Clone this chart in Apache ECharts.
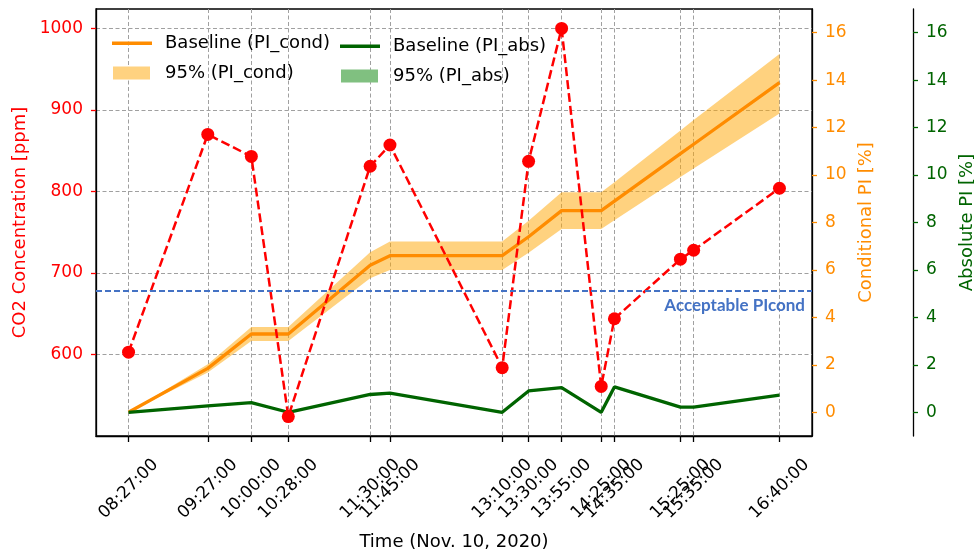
<!DOCTYPE html>
<html><head><meta charset="utf-8">
<script src="https://cdn.jsdelivr.net/npm/echarts@6/dist/echarts.min.js"></script>
<style>html,body{margin:0;padding:0;background:#fff}#c{width:974px;height:552px}</style>
</head><body><div id="c"></div>
<script>
// ---- data ----
const timeLabels = ['08:27:00','09:27:00','10:00:00','10:28:00','11:30:00','11:45:00','13:10:00','13:30:00','13:55:00','14:25:00','14:35:00','15:25:00','15:35:00','16:40:00'];
const co2        = [603, 870, 843, 524, 831, 857, 584, 837, 1000, 561, 644, 717, 728, 804];
const piCond     = [0, 1.85, 3.3, 3.3, 6.2, 6.6, 6.6, 7.4, 8.5, 8.5, 8.9, 10.9, 11.3, 13.9];
const piCondLow  = [0, 1.68, 3.0, 3.0, 5.65, 6.0, 6.0, 6.73, 7.73, 7.73, 8.1, 9.92, 10.28, 12.6];
const piCondHigh = [0, 2.02, 3.6, 3.6, 6.75, 7.2, 7.2, 8.07, 9.27, 9.27, 9.7, 11.88, 12.32, 15.1];
const piAbs      = [0, 0.27, 0.41, 0, 0.75, 0.81, 0, 0.9, 1.04, 0, 1.07, 0.22, 0.22, 0.72];
const piAbsLow   = [0, 0.25, 0.39, 0, 0.72, 0.78, 0, 0.87, 1.0, 0, 1.03, 0.21, 0.21, 0.69];
const piAbsHigh  = [0, 0.29, 0.43, 0, 0.78, 0.84, 0, 0.93, 1.08, 0, 1.11, 0.23, 0.23, 0.75];
const acceptablePICond = 5.14;
const co2Ticks = [600, 700, 800, 900, 1000];
const piTicks = [0, 2, 4, 6, 8, 10, 12, 14, 16];

// ---- helpers ----
function toMin(s){ const p = s.split(':'); return (+p[0]) * 60 + (+p[1]); }
const xs = timeLabels.map(toMin);
const pairs = arr => xs.map((x, i) => [x, arr[i]]);
function labelFor(v){ const i = xs.indexOf(Math.round(v)); return i >= 0 ? timeLabels[i] : ''; }

const FONT = 'DejaVu Sans';
const RED = '#FF0000', ORANGE = '#FF8C00', ORANGE_BAND = 'rgba(255,165,0,0.5)', ORANGE_BAND_SOLID = '#FFD280';
const GREEN = '#006400', GREEN_BAND = 'rgba(0,128,0,0.5)', GREEN_BAND_SOLID = '#80C080';
const BLUE = '#4472C4';
const LINE_ICON = 'path://M0,0 M48,13 M0,5 L40,5 L40,8.5 L0,8.5 Z';
const RECT_ICON = 'path://M0,0 M48,13 M1,0 L38,0 L38,13 L1,13 Z';

function bandSeries(name, yAxisIndex, lo, hi, fill, solid){
  return {
    type: 'custom', name: name, yAxisIndex: yAxisIndex, z: 1, silent: true, clip: true,
    data: xs.map((x, i) => [x, lo[i], hi[i]]),
    encode: {x: 0, y: [1, 2]},
    itemStyle: {color: solid},
    renderItem: function(params, api){
      if (params.dataIndex !== 0) return null;
      const n = xs.length, top = [], bot = [];
      for (let i = 0; i < n; i++) {
        top.push(api.coord([xs[i], hi[i]]));
        bot.push(api.coord([xs[i], lo[i]]));
      }
      return {type: 'polygon', shape: {points: top.concat(bot.reverse())}, style: {fill: fill}};
    }
  };
}

const chart = echarts.init(document.getElementById('c'), null, {renderer: 'canvas'});
const legendCommon = {
  orient: 'vertical', itemWidth: 48, itemHeight: 13, itemGap: 12, padding: 0,
  selectedMode: false, textStyle: {fontSize: 18, color: '#000', fontFamily: FONT},
  itemStyle: {borderWidth: 0}
};
function rightAxis(name, color, offset){
  return {
    type: 'value', position: 'right', offset: offset, min: -1, max: 17,
    axisLine: {show: true, onZero: false, lineStyle: {color: '#000', width: 1.3}},
    axisTick: {show: true, customValues: piTicks, length: 5, lineStyle: {color: color, width: 1.3}},
    axisLabel: {customValues: piTicks, formatter: v => String(v), color: color, fontSize: 17, margin: 13, fontFamily: FONT},
    splitLine: {show: false},
    name: name, nameLocation: 'middle', nameRotate: 90, nameGap: 42,
    nameTextStyle: {color: color, fontSize: 18, fontFamily: FONT}
  };
}
const option = {
  animation: false,
  textStyle: {fontFamily: FONT},
  grid: {left: 96, right: 162, top: 9, bottom: 116, show: true, borderColor: '#000', borderWidth: 1.3,
    containLabel: false, outerBoundsMode: 'none'},
  legend: [
    Object.assign({}, legendCommon, {left: 112, top: 34, data: [
      {name: 'Baseline (PI_cond)', icon: LINE_ICON, itemStyle: {color: ORANGE}},
      {name: '95% (PI_cond)', icon: RECT_ICON, itemStyle: {color: ORANGE_BAND_SOLID}}]}),
    Object.assign({}, legendCommon, {left: 340, top: 37, data: [
      {name: 'Baseline (PI_abs)', icon: LINE_ICON, itemStyle: {color: GREEN}},
      {name: '95% (PI_abs)', icon: RECT_ICON, itemStyle: {color: GREEN_BAND_SOLID}}]})
  ],
  xAxis: {
    type: 'value', min: 482.35, max: 1024.65,
    axisLine: {show: true, onZero: false, lineStyle: {color: '#000', width: 1.3}},
    axisTick: {show: true, customValues: xs, length: 6, lineStyle: {color: '#000', width: 1.3}},
    axisLabel: {customValues: xs, formatter: v => labelFor(v), rotate: 45, align: 'center', verticalAlign: 'middle',
      margin: 53, fontSize: 17, color: '#000', fontFamily: FONT},
    splitLine: {show: true, lineStyle: {color: '#a0a0a0', type: [4, 2.5], width: 1}},
    name: 'Time (Nov. 10, 2020)', nameLocation: 'middle', nameGap: 97,
    nameTextStyle: {fontSize: 18, color: '#000', fontFamily: FONT}
  },
  yAxis: [
    {
      type: 'value', position: 'left', min: 500.2, max: 1023.8,
      axisLine: {show: true, onZero: false, lineStyle: {color: '#000', width: 1.3}},
      axisTick: {show: true, customValues: co2Ticks, length: 5, lineStyle: {color: RED, width: 1.3}},
      axisLabel: {customValues: co2Ticks, formatter: v => String(v), color: RED, fontSize: 17, margin: 13, fontFamily: FONT},
      splitLine: {show: true, lineStyle: {color: '#a0a0a0', type: [4, 2.5], width: 1}},
      name: 'CO2 Concentration [ppm]', nameLocation: 'middle', nameRotate: 90, nameGap: 63,
      nameTextStyle: {color: RED, fontSize: 18, fontFamily: FONT}
    },
    rightAxis('Conditional PI [%]', ORANGE, 0),
    rightAxis('Absolute PI [%]', GREEN, 101)
  ],
  series: [
    bandSeries('95% (PI_cond)', 1, piCondLow, piCondHigh, ORANGE_BAND, ORANGE_BAND_SOLID),
    bandSeries('95% (PI_abs)', 2, piAbsLow, piAbsHigh, GREEN_BAND, GREEN_BAND_SOLID),
    {type: 'line', name: 'Baseline (PI_cond)', yAxisIndex: 1, data: pairs(piCond), symbol: 'none',
      itemStyle: {color: ORANGE}, lineStyle: {color: ORANGE, width: 3.3}, z: 2,
      markLine: {silent: true, symbol: 'none', data: [{yAxis: acceptablePICond}],
        lineStyle: {color: BLUE, type: [6, 3], width: 2},
        label: {show: true, position: 'insideEndBottom', formatter: 'Acceptable PIcond', color: BLUE,
          fontSize: 17, fontWeight: 'bold', fontFamily: 'Lato', distance: 7}}},
    {type: 'line', name: 'Baseline (PI_abs)', yAxisIndex: 2, data: pairs(piAbs), symbol: 'none',
      itemStyle: {color: GREEN}, lineStyle: {color: GREEN, width: 3.3}, z: 2},
    {type: 'line', name: 'CO2', yAxisIndex: 0, data: pairs(co2), symbol: 'circle', symbolSize: 13,
      itemStyle: {color: RED}, lineStyle: {color: RED, width: 2.5, type: [9, 4]}, z: 3}
  ]
};
chart.setOption(option);
</script>
</body></html>
